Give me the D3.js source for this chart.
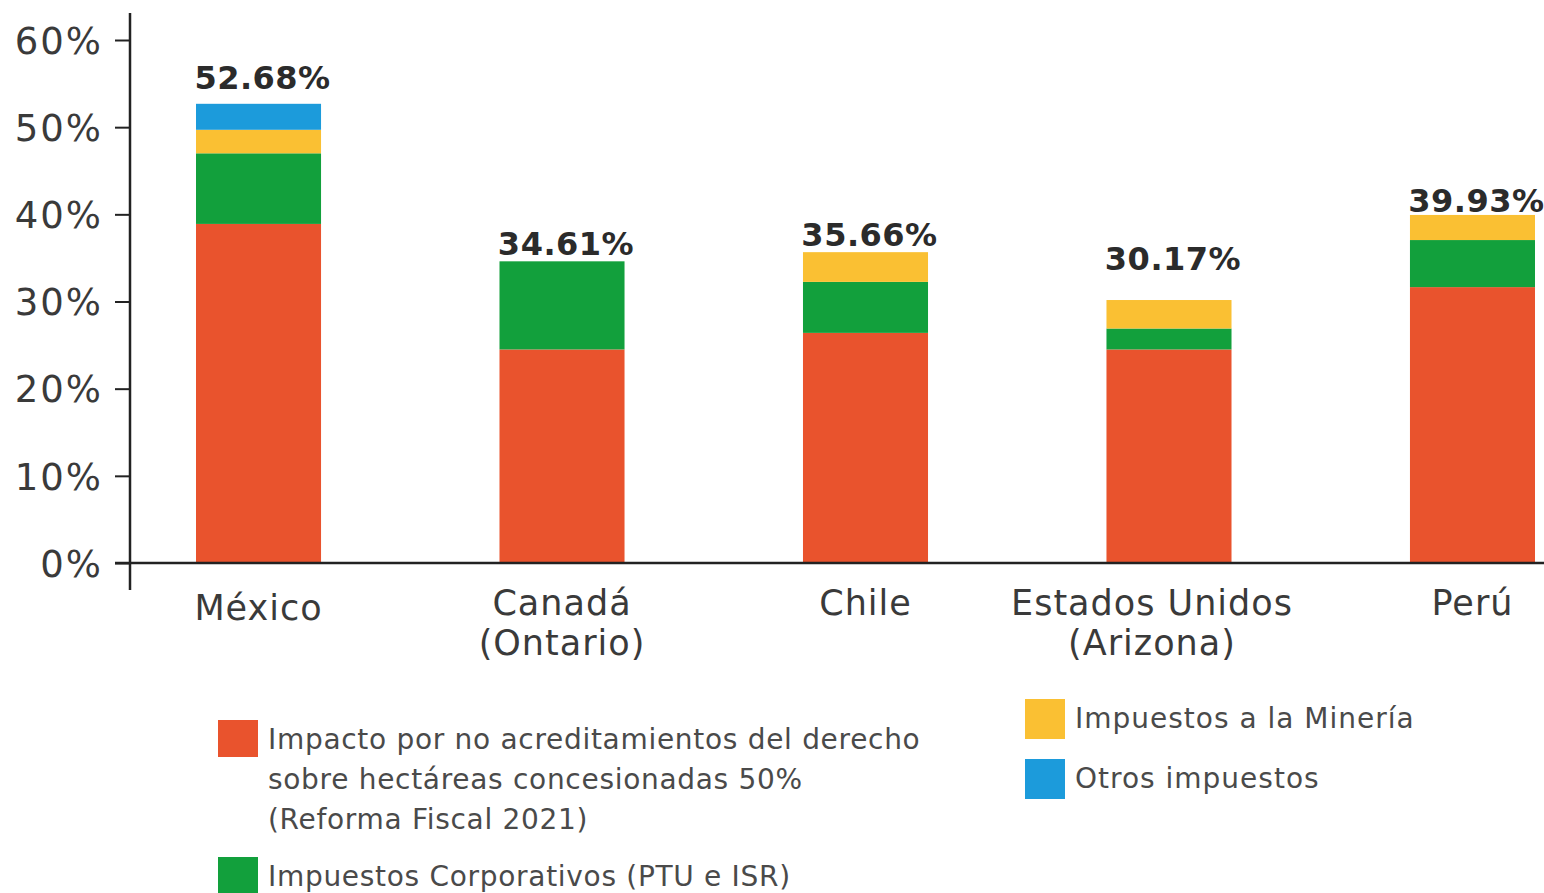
<!DOCTYPE html>
<html>
<head>
<meta charset="utf-8">
<script src="https://cdn.jsdelivr.net/npm/d3@7"></script>
<style>
  body { margin: 0; background: #fff; }
  svg { display: block; }
</style>
</head>
<body>
<script>
// Datos (porcentajes)
var paises = ['México', 'Canadá\n(Ontario)', 'Chile', 'Estados Unidos\n(Arizona)', 'Perú']
var series = [
    'Impacto por no acreditamientos del derecho\nsobre hectáreas concesionadas 50%\n(Reforma Fiscal 2021)',
    'Impuestos Corporativos (PTU e ISR)',
    'Impuestos a la Minería',
    'Otros impuestos'
]
var impacto = [38.9, 24.5, 26.4, 24.5, 31.65]
var corporativos = [8.1, 10.11, 5.85, 2.4, 5.4]
var mineria = [2.7, 0, 3.41, 3.27, 2.88]
var otros = [2.98, 0, 0, 0, 0]
var totales = [52.68, 34.61, 35.66, 30.17, 39.93]
var yTicks = [0, 10, 20, 30, 40, 50, 60]

// Couleurs
var colours = ['#e9532d', '#12a03c', '#fac033', '#1c9bdb']
var ink = '#3a3a3a'
var font = 'DejaVu Sans, sans-serif'

var width = 1544
var height = 893

var rows = paises.map((p, i) => ({
    pais: p, s0: impacto[i], s1: corporativos[i], s2: mineria[i], s3: otros[i], total: totales[i]
}))

var stacked = d3.stack().keys(['s0', 's1', 's2', 's3'])(rows)

var x = d3.scaleBand()
    .domain(paises)
    .range([196, 1535])
    .paddingInner(0.588)
    .paddingOuter(0)

var y = d3.scaleLinear()
    .domain([0, 60])
    .range([563, 40])

var svg = d3.select('body').append('svg')
    .attr('width', width)
    .attr('height', height)

// barres
svg.append('g')
    .selectAll('g')
    .data(stacked)
    .join('g')
    .attr('fill', (d, i) => colours[i])
    .selectAll('rect')
    .data(d => d)
    .join('rect')
    .attr('x', d => x(d.data.pais))
    .attr('width', x.bandwidth())
    .attr('y', d => y(d[1]))
    .attr('height', d => y(d[0]) - y(d[1]))

// axe Y
var yAxis = svg.append('g')
    .attr('transform', 'translate(130,0)')
    .call(d3.axisLeft(y).tickValues(yTicks).tickSize(15).tickPadding(12).tickFormat(d => d + '%'))
yAxis.select('.domain').remove()
yAxis.selectAll('line').attr('stroke', '#222').attr('stroke-width', 2)
yAxis.selectAll('text')
    .attr('font-family', font)
    .attr('font-size', 37)
    .attr('letter-spacing', 2)
    .attr('fill', ink)
    .attr('dy', '0.36em')

svg.append('line')
    .attr('x1', 130).attr('x2', 130)
    .attr('y1', 13).attr('y2', 590)
    .attr('stroke', '#222').attr('stroke-width', 2.5)

svg.append('line')
    .attr('x1', 115).attr('x2', width)
    .attr('y1', y(0)).attr('y2', y(0))
    .attr('stroke', '#222').attr('stroke-width', 2.5)

// etiquettes des pays
var labelShift = { 'Estados Unidos\n(Arizona)': -17 }
svg.append('g')
    .selectAll('text')
    .data(paises)
    .join('text')
    .attr('text-anchor', 'middle')
    .attr('font-family', font)
    .attr('font-size', 35)
    .attr('letter-spacing', 1)
    .attr('fill', ink)
    .attr('transform', d => 'translate(' + (x(d) + x.bandwidth() / 2 + (labelShift[d] || 0)) + ',' + (d === 'México' ? 620 : 615) + ')')
    .selectAll('tspan')
    .data(d => d.split('\n'))
    .join('tspan')
    .attr('x', 0)
    .attr('dy', (d, i) => i ? 40 : 0)
    .text(d => d)

// totaux
var lift = [15, 6, 6, 30, 3]
svg.append('g')
    .selectAll('text')
    .data(rows)
    .join('text')
    .attr('text-anchor', 'middle')
    .attr('font-family', font)
    .attr('font-weight', 'bold')
    .attr('font-size', 32)
    .attr('letter-spacing', 0.5)
    .attr('fill', '#2b2b2b')
    .attr('x', d => x(d.pais) + x.bandwidth() / 2 + 4)
    .attr('y', (d, i) => y(d.total) - lift[i])
    .text(d => d.total.toFixed(2) + '%')

// légende
var legendPos = [[218, 720], [218, 857], [1025, 699], [1025, 759]]
var legend = svg.append('g')
    .selectAll('g')
    .data(series)
    .join('g')
    .attr('transform', (d, i) => 'translate(' + legendPos[i][0] + ',' + legendPos[i][1] + ')')

legend.append('rect')
    .attr('width', 40)
    .attr('height', (d, i) => i === 0 ? 37 : 40)
    .attr('fill', (d, i) => colours[i])

legend.append('text')
    .attr('font-family', font)
    .attr('font-size', 28)
    .attr('letter-spacing', (d, i) => i < 2 ? 0.7 : 1)
    .attr('fill', '#4a4a4a')
    .attr('transform', 'translate(50,29)')
    .selectAll('tspan')
    .data(d => d.split('\n'))
    .join('tspan')
    .attr('x', 0)
    .attr('dy', (d, i) => i ? 40 : 0)
    .text(d => d)
</script>
</body>
</html>
